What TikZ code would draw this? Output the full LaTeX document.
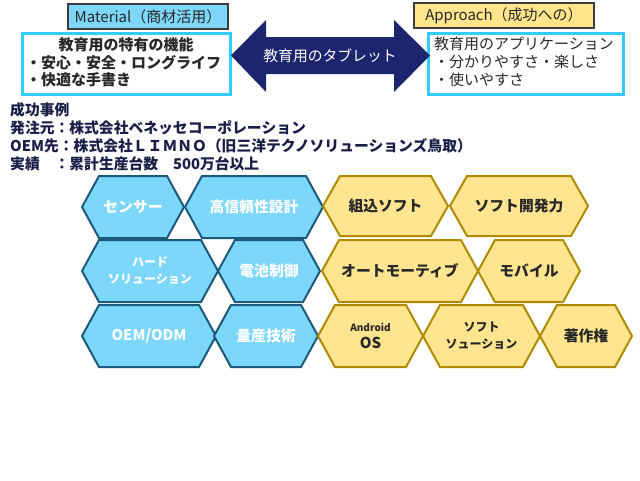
\documentclass[tikz,border=0pt]{standalone}
\usepackage{fontspec}
\setmainfont{Noto Sans CJK JP}
\usetikzlibrary{calc}
\definecolor{bluefill}{RGB}{125,215,250}
\definecolor{blueline}{RGB}{28,90,122}
\definecolor{yelfill}{RGB}{255,229,143}
\definecolor{yelline}{RGB}{176,138,0}
\definecolor{navy}{RGB}{28,38,110}
\definecolor{cyanline}{RGB}{51,204,255}
\definecolor{labelline}{RGB}{60,60,60}
\definecolor{matfill}{RGB}{125,215,250}
\definecolor{appfill}{RGB}{255,229,140}
\definecolor{darktxt}{RGB}{40,40,40}
\definecolor{blocktxt}{RGB}{25,30,70}
\pgfdeclarelayer{shadowlayer}
\pgfsetlayers{shadowlayer,main}
\tikzset{
  hexblue/.style={fill=bluefill, draw=blueline, line width=2pt},
  hexyel/.style={fill=yelfill, draw=yelline, line width=2pt},
  bluetxt/.style={text=white, font=\bfseries\fontsize{14.8}{17}\selectfont, align=center, inner sep=0pt},
  yeltxt/.style={text=darktxt, font=\bfseries\fontsize{14.8}{17}\selectfont, align=center, inner sep=0pt},
  labelbox/.style={draw=labelline, line width=2pt, text=darktxt, font=\fontsize{15}{17}\selectfont},
  infobox/.style={draw=cyanline, line width=3pt, fill=white},
  boxtextb/.style={text=darktxt, font=\bfseries\fontsize{15}{17}\selectfont, inner sep=0pt},
  boxtext/.style={text=darktxt, font=\fontsize{15}{17}\selectfont, inner sep=0pt, anchor=west},
  blocktext/.style={anchor=west, inner sep=0pt, text=blocktxt, font=\bfseries\fontsize{14.8}{17}\selectfont},
}
\newcommand\hexa[8]{%
  \begin{pgfonlayer}{shadowlayer}
    \fill[black, opacity=0.3, shift={(2.5,2.5)}] (#3,{(#5+#6)/2}) -- ({#3+17},#5) -- ({#4-17},#5) -- (#4,{(#5+#6)/2}) -- ({#4-17},#6) -- ({#3+17},#6) -- cycle;
  \end{pgfonlayer}
  \draw[#2] (#3,{(#5+#6)/2}) -- ({#3+17},#5) -- ({#4-17},#5) -- (#4,{(#5+#6)/2}) -- ({#4-17},#6) -- ({#3+17},#6) -- cycle;
  \node[#7] (#1) at ({(#3+#4)/2},{(#5+#6)/2}) {#8};
}
\begin{document}
\begin{tikzpicture}[x=1pt,y=-1pt]
\useasboundingbox[fill=white] (0,0) rectangle (640,480);

% top label boxes
\node[labelbox, fill=matfill, minimum width=160pt, minimum height=25pt, inner sep=0pt] (matl) at (148,16.5) {Material（商材活用）};
\node[labelbox, fill=appfill, minimum width=180pt, minimum height=25pt, inner sep=0pt] (appr) at (504,15.5) {Approach（成功への）};

% info boxes
\node[infobox, minimum width=208pt, minimum height=61pt, inner sep=0pt] (lbox) at (126,63.5) {};
\node[infobox, minimum width=195pt, minimum height=61pt, inner sep=0pt] (rbox) at (525.5,63.5) {};

\node[boxtextb] (l1) at (126,45) {教育用の特有の機能};
\node[boxtextb, anchor=west] (l2) at (26,62.5) {・安心・安全・ロングライフ};
\node[boxtextb, anchor=west] (l3) at (26,80) {・快適な手書き};

\node[boxtext] (r1) at (434,44) {教育用のアプリケーション};
\node[boxtext] (r2) at (434,62) {・分かりやすさ・楽しさ};
\node[boxtext] (r3) at (434,80) {・使いやすさ};

% double arrow
\coordinate (ltip) at (231,55.5);
\coordinate (rtip) at (430,55.5);
\fill[navy] (ltip) -- (266,20) -- (266,37) -- (394,37) -- (394,20) -- (rtip) -- (394,92) -- (394,74) -- (266,74) -- (266,92) -- cycle;
\node[text=white, font=\fontsize{14.8}{17}\selectfont, inner sep=0pt] (arrowtxt) at (330,55.5) {教育用のタブレット};

% success block
\node[blocktext] (b1) at (10,110) {成功事例};
\node[blocktext] (b2) at (10,128) {発注元：株式会社ベネッセコーポレーション};
\node[blocktext] (b3) at (10,146) {OEM先：株式会社ＬＩＭＮＯ（旧三洋テクノソリューションズ鳥取）};
\node[blocktext] (b4a) at (10,164) {実績};
\node[blocktext] (b4b) at (54.4,164) {：累計生産台数　500万台以上};

% blue hexagons
\hexa{sensor}{hexblue}{82}{184}{176}{238}{bluetxt}{センサー}
\hexa{reliab}{hexblue}{185}{323}{176}{238}{bluetxt}{高信頼性設計}
\hexa{hard}{hexblue}{82}{218}{240}{302}{bluetxt}{\fontsize{12}{16}\selectfont ハード\\\fontsize{12}{16}\selectfont ソリューション}
\hexa{battery}{hexblue}{218}{320}{240}{302}{bluetxt}{電池制御}
\hexa{oem}{hexblue}{82}{216}{305}{367}{bluetxt}{OEM/ODM}
\hexa{mass}{hexblue}{214}{318}{305}{367}{bluetxt}{量産技術}

% yellow hexagons
\hexa{embed}{hexyel}{323}{448}{176}{236}{yeltxt}{組込ソフト}
\hexa{softdev}{hexyel}{450}{588}{176}{236}{yeltxt}{ソフト開発力}
\hexa{auto}{hexyel}{322}{478}{240}{302}{yeltxt}{オートモーティブ}
\hexa{mobile}{hexyel}{478}{580}{240}{302}{yeltxt}{モバイル}
\hexa{android}{hexyel}{318}{423}{305}{367}{yeltxt}{\fontsize{10}{13}\selectfont Android\\\fontsize{15}{15}\selectfont OS}
\hexa{softsol}{hexyel}{423}{540}{305}{367}{yeltxt}{\fontsize{12}{16}\selectfont ソフト\\\fontsize{12}{16}\selectfont ソューション}
\hexa{copyright}{hexyel}{540}{632}{305}{367}{yeltxt}{著作権}
\end{tikzpicture}
\end{document}
